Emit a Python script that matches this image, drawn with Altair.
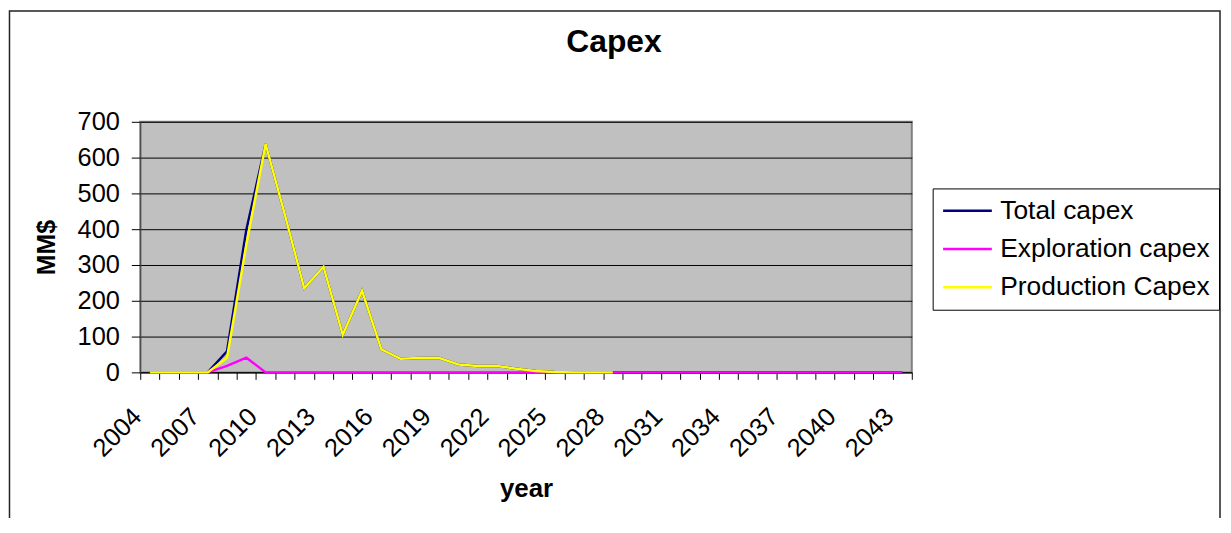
import altair as alt
import pandas as pd

years = list(range(2004, 2044))
series_names = ["Total capex", "Exploration capex", "Production Capex"]
series_colors = ["#000080", "#FF00FF", "#FFFF00"]

total_capex = [0, 0, 0, 0, 59, 398, 638, 440, 235, 295, 105, 228, 64, 38, 40, 40,
               22, 18, 18, 10, 4, 1] + [0] * 18
exploration_capex = [0, 0, 0, 0, 18, 41] + [0] * 34
production_capex = [0, 0, 0, 0, 41, 357, 638, 440, 235, 295, 105, 228, 64, 38, 40, 40,
                    22, 18, 18, 10, 4, 1, 0, 0, 0] + [None] * 15

y_ticks = list(range(0, 701, 100))

rows = []
for name, vals in zip(series_names, [total_capex, exploration_capex, production_capex]):
    for yr, v in zip(years, vals):
        if v is not None:
            rows.append({"year": yr, "series": name, "value": v})
df = pd.DataFrame(rows)

FONT = "Liberation Sans"

x_enc = alt.X(
    "year:O",
    scale=alt.Scale(type="band", domain=years, paddingInner=0, paddingOuter=0),
    bandPosition=0.5,
    axis=alt.Axis(
        title="year",
        titleFont=FONT, titleFontSize=26, titleFontWeight="bold", titleColor="black",
        titleBaseline="alphabetic", titleY=125,
        labelExpr="(datum.value - 2004) % 3 == 0 ? datum.label : ''",
        labelAngle=315, labelAlign="right", labelBaseline="middle",
        labelFont=FONT, labelFontSize=25.5, labelColor="black",
        labelPadding=33, labelOffset=-13, labelOverlap=False, labelBound=False,
        tickBand="extent", tickSize=7, tickColor="black", tickWidth=1,
        domainColor="black", domainWidth=1, grid=False,
    ),
)
y_enc = alt.Y(
    "value:Q",
    scale=alt.Scale(domain=[0, 700], nice=False, zero=True),
    axis=alt.Axis(
        title="MM$",
        titleFont=FONT, titleFontSize=25, titleFontWeight="bold", titleColor="black",
        titleBaseline="alphabetic", titleX=-86, titleAngle=270,
        values=y_ticks, format="d",
        labelFont=FONT, labelFontSize=25.5, labelColor="black", labelPadding=12,
        tickSize=9, tickColor="black", tickWidth=1,
        domainColor="#404040", domainWidth=1,
        grid=True, gridColor="black", gridWidth=1,
    ),
)
color_enc = alt.Color(
    "series:N",
    scale=alt.Scale(domain=series_names, range=series_colors),
    legend=alt.Legend(
        title=None, orient="none", legendX=797, legendY=67,
        fillColor="white", strokeColor="black", padding=9, rowPadding=11.5,
        symbolType="stroke", symbolSize=2401, symbolStrokeWidth=2.5,
        labelFont=FONT, labelFontSize=26.5, labelColor="black", labelOffset=7,
        labelLimit=400, clipHeight=27,
    ),
)

base = alt.Chart(df)
layers = []
for name in series_names:
    layers.append(
        base.transform_filter(alt.datum.series == name)
        .mark_line(strokeWidth=2.5)
        .encode(x=x_enc, y=y_enc, color=color_enc)
    )

frame = alt.Chart(alt.Data(values=[{}])).mark_rect(
    filled=False, stroke="#222222", strokeWidth=1.5
).encode(
    x=alt.value(-131.5), x2=alt.value(1086), y=alt.value(-111.5), y2=alt.value(600)
)

chart = alt.layer(frame, *layers).properties(
    width=776,
    height=252,
    title=alt.TitleParams(
        "Capex", font=FONT, fontSize=32, fontWeight="bold", color="black",
        anchor="middle", baseline="alphabetic", offset=0, dx=88.5, dy=74.2,
    ),
    autosize=alt.AutoSizeParams(type="none"),
    padding={"left": 133, "top": 113, "right": 313, "bottom": 145},
).configure_view(
    fill="#C0C0C0", stroke="#808080", strokeWidth=2
)

chart.save("out.html", embed_options={"renderer": "svg", "actions": False})
